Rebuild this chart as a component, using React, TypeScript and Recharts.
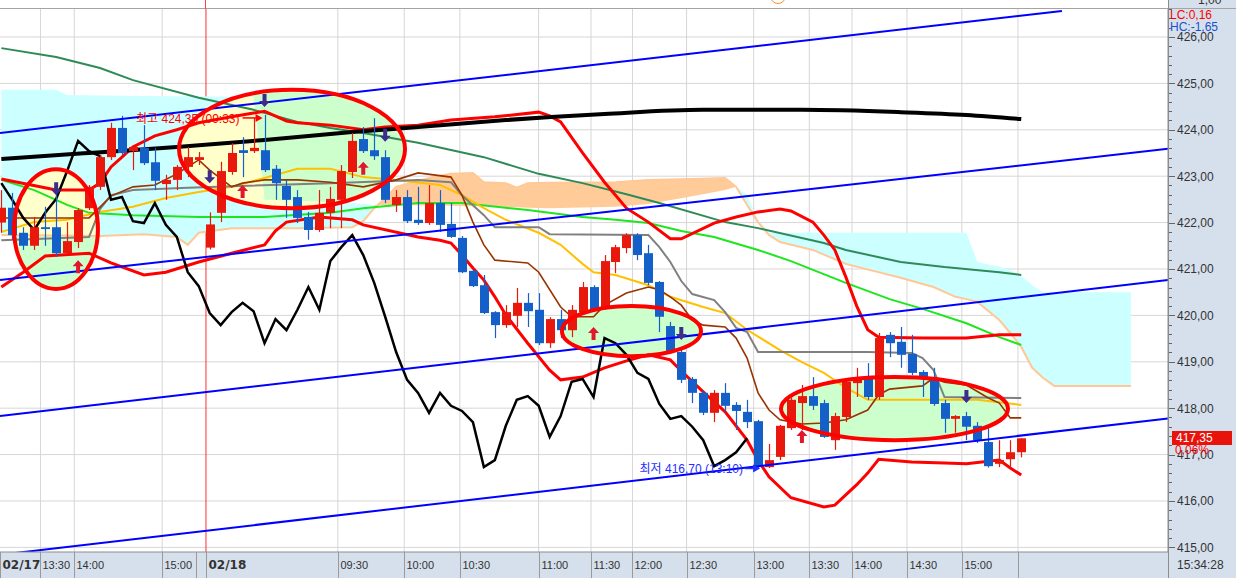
import React from 'react'
import {
  ComposedChart, Bar, Line, Area, Scatter, XAxis, YAxis,
  ReferenceLine, ReferenceArea, ReferenceDot,
} from 'recharts'

const FONT = "'Liberation Sans', 'Noto Sans CJK KR', sans-serif"
const PANEL = '#d6e0ec'
const UP = '#e8180c'
const DOWN = '#1560c8'

// bar index k = 0..93 (02/17 afternoon + 02/18)
const opens = [
  422.00, 422.32, 421.78, 421.50, 421.90, 421.90, 421.34, 421.58, 422.31, 422.77,
  423.41, 424.04, 423.54, 423.61, 423.30, 422.83, 422.92, 423.20, 423.35, 421.46,
  422.21, 423.09, 423.56, 423.54, 423.56, 423.16, 422.79, 422.55, 422.12, 421.84,
  422.21, 422.49, 423.09, 423.80, 423.56, 423.41, 422.38, 422.55, 422.06, 421.99,
  422.42, 421.97, 421.67, 420.96, 420.65, 420.07, 419.79, 419.99, 420.27, 420.12,
  419.40, 419.92, 419.68, 420.07, 420.61, 420.18, 421.15, 421.45, 421.73, 421.34,
  420.72, 419.77, 419.21, 418.63, 418.33, 417.90, 418.33, 418.07, 417.92, 417.72,
  416.73, 416.95, 417.57, 418.11, 418.26, 418.11, 417.31, 417.81, 418.54, 418.65,
  418.24, 419.58, 419.43, 419.17, 418.78, 418.63, 418.11, 417.77, 417.83, 417.62,
  417.27, 416.80, 416.90, 417.05,
]
const highs = [
  422.70, 422.64, 421.90, 422.12, 422.34, 422.70, 422.01, 422.31, 422.81, 423.46,
  424.15, 424.30, 423.67, 424.10, 423.61, 423.03, 423.24, 423.63, 423.52, 422.22,
  423.31, 423.71, 423.84, 424.25, 424.32, 423.24, 422.92, 422.70, 422.23, 422.70,
  422.77, 423.24, 423.93, 424.06, 424.25, 423.56, 422.70, 422.70, 422.77, 422.81,
  422.70, 422.42, 421.71, 420.98, 420.87, 420.09, 420.22, 420.59, 420.48, 420.48,
  419.96, 420.12, 420.22, 420.72, 420.65, 421.30, 421.52, 421.77, 421.77, 421.52,
  420.74, 419.86, 419.25, 418.67, 418.39, 418.39, 418.54, 418.13, 418.18, 417.75,
  417.23, 417.64, 418.22, 418.50, 418.67, 418.18, 417.90, 418.61, 418.87, 418.97,
  419.62, 419.64, 419.75, 419.58, 418.82, 418.87, 418.18, 417.85, 417.92, 417.70,
  417.57, 417.31, 417.31, 417.35,
]
const lows = [
  421.78, 421.63, 421.41, 421.41, 421.50, 421.26, 421.30, 421.45, 422.27, 422.70,
  423.35, 423.46, 423.13, 423.24, 422.70, 422.49, 422.70, 422.98, 423.24, 421.42,
  422.01, 423.03, 422.98, 423.50, 423.09, 422.49, 422.10, 421.99, 421.63, 421.80,
  421.88, 421.88, 422.96, 423.50, 423.35, 422.42, 422.23, 421.99, 421.95, 421.95,
  421.80, 421.67, 420.91, 420.61, 420.03, 419.51, 419.73, 419.75, 419.75, 419.36,
  419.30, 419.51, 419.53, 420.05, 420.07, 420.12, 420.91, 421.34, 421.19, 420.65,
  419.64, 419.19, 418.54, 418.11, 417.85, 417.70, 417.90, 417.53, 417.57, 416.70,
  416.71, 416.88, 417.53, 417.53, 417.96, 417.36, 417.10, 417.70, 418.24, 418.18,
  418.18, 419.10, 418.87, 418.71, 418.24, 418.05, 417.47, 417.47, 417.31, 417.25,
  416.72, 416.73, 416.71, 416.94,
]
const closes = [
  422.32, 421.73, 421.50, 421.90, 421.86, 421.34, 421.60, 422.27, 422.77, 423.41,
  424.04, 423.50, 423.63, 423.28, 422.90, 422.92, 423.20, 423.41, 423.41, 421.96,
  423.11, 423.50, 423.50, 423.61, 423.13, 422.85, 422.49, 422.10, 421.84, 422.21,
  422.51, 423.11, 423.76, 423.54, 423.43, 422.49, 422.55, 422.03, 421.99, 422.42,
  421.95, 421.69, 420.93, 420.63, 420.05, 419.79, 420.07, 420.27, 420.09, 419.40,
  419.92, 419.68, 420.12, 420.61, 420.12, 421.17, 421.47, 421.73, 421.30, 420.70,
  419.97, 419.21, 418.61, 418.33, 417.90, 418.33, 418.05, 417.94, 417.70, 416.73,
  416.88, 417.62, 418.18, 418.26, 418.05, 417.38, 417.83, 418.57, 418.63, 418.24,
  419.51, 419.40, 419.15, 418.76, 418.63, 418.09, 417.77, 417.83, 417.60, 417.31,
  416.75, 416.88, 417.05, 417.35,
]

// indicator lines read at sample bars: [bar, price]
const blackMa: [number, number][] = [
  [0, 423.37], [8, 423.50], [16, 423.63], [24, 423.78], [32, 423.95], [38, 424.06], [46, 424.21],
  [55, 424.34], [64, 424.43], [73, 424.43], [82, 424.38], [88, 424.32], [93, 424.23],
]
const tealMa: [number, number][] = [
  [0, 425.76], [5, 425.57], [9, 425.33], [12, 425.07], [18, 424.69], [23, 424.43], [27, 424.17],
  [30, 424.04], [33, 423.93], [38, 423.72], [44, 423.41], [49, 423.05], [53, 422.85], [57, 422.61],
  [60, 422.42], [66, 422.01], [69, 421.88], [75, 421.56], [77, 421.41], [82, 421.15], [86, 421.04],
  [91, 420.93], [93, 420.87],
]
const greenMa: [number, number][] = [
  [0, 422.92], [3, 422.70], [6, 422.38], [8, 422.21], [12, 422.16], [18, 422.12], [24, 422.12],
  [30, 422.21], [33, 422.31], [38, 422.42], [42, 422.42], [48, 422.27], [53, 422.12], [56, 422.06],
  [59, 421.99], [62, 421.82], [65, 421.69], [69, 421.41], [72, 421.17], [77, 420.70], [81, 420.35],
  [84, 420.14], [88, 419.83], [91, 419.53], [93, 419.36],
]
const yellowMa: [number, number][] = [
  [0, 421.80], [3, 422.01], [6, 422.06], [9, 422.23], [12, 422.34], [15, 422.53], [18, 422.66],
  [21, 422.77], [24, 422.96], [27, 423.16], [30, 423.16], [33, 422.98], [36, 422.92], [40, 422.81],
  [42, 422.59], [44, 422.31], [46, 422.06], [49, 421.78], [51, 421.52], [53, 421.11], [54, 420.93],
  [56, 420.87], [59, 420.65], [61, 420.40], [64, 420.18], [66, 420.05], [68, 419.69], [71, 419.25],
  [73, 418.99], [75, 418.76], [77, 418.44], [79, 418.18], [83, 418.18], [89, 418.18], [93, 418.07],
]
const tenkan: [number, number][] = [
  [0, 422.10], [8, 422.10], [10, 422.57], [12, 422.77], [14, 422.81], [16, 423.05], [18, 423.35],
  [19, 423.13], [21, 422.77], [22, 422.85], [24, 422.92], [27, 422.92], [30, 422.87], [33, 422.77],
  [36, 422.92], [38, 423.07], [41, 422.98], [42, 422.59], [43, 422.01], [44, 421.52], [45, 421.19],
  [48, 421.13], [49, 420.93], [51, 420.18], [52, 419.97], [54, 419.97], [55, 420.22], [57, 420.48],
  [59, 420.61], [60, 420.55], [61, 420.40], [62, 420.22], [63, 419.90], [64, 419.79], [66, 419.75],
  [67, 419.51], [68, 419.08], [69, 418.33], [70, 417.96], [71, 417.75], [73, 417.66], [75, 417.68],
  [77, 417.75], [79, 417.96], [80, 418.29], [81, 418.41], [84, 418.48], [85, 418.65], [86, 418.56],
  [88, 418.50], [90, 418.22], [91, 418.11], [92, 417.79], [93, 417.79],
]
const kijun: [number, number][] = [
  [0, 421.62], [8, 421.69], [9, 422.29], [10, 422.59], [12, 422.70], [17, 422.75], [30, 422.85],
  [38, 422.92], [41, 422.87], [42, 422.59], [44, 422.16], [45, 421.90], [49, 421.90], [50, 421.75],
  [59, 421.73], [60, 421.47], [61, 421.15], [62, 420.74], [63, 420.46], [65, 420.33], [66, 420.07],
  [67, 419.73], [68, 419.64], [69, 419.21], [79, 419.21], [83, 419.19], [84, 419.08], [85, 418.82],
  [86, 418.24], [93, 418.22],
]
const bandUpper: [number, number][] = [
  [0, 422.94], [5, 422.70], [8, 422.70], [9, 422.85], [10, 423.20], [11, 423.41], [12, 423.63],
  [14, 423.87], [16, 424.00], [18, 424.15], [21, 424.28], [23, 424.36], [24, 424.40], [26, 424.19],
  [27, 424.15], [30, 424.10], [33, 424.00], [35, 424.06], [38, 424.10], [41, 424.21], [45, 424.28],
  [49, 424.38], [50, 424.30], [51, 424.17], [53, 423.50], [55, 422.87], [57, 422.31], [59, 422.01],
  [61, 421.65], [62, 421.65], [65, 421.99], [67, 422.12], [69, 422.23], [71, 422.29], [72, 422.25],
  [74, 422.01], [75, 421.73], [76, 421.41], [77, 420.83], [78, 420.20], [79, 419.69], [80, 419.53],
  [84, 419.51], [88, 419.51], [91, 419.58], [93, 419.58],
]
const bandLower: [number, number][] = [
  [0, 420.61], [2, 420.93], [4, 421.28], [8, 421.34], [10, 421.13], [13, 420.87], [15, 420.93],
  [18, 421.15], [21, 421.34], [24, 421.52], [25, 421.82], [26, 422.01], [29, 422.12], [32, 422.06],
  [33, 421.95], [38, 421.69], [40, 421.62], [41, 421.56], [42, 421.30], [43, 421.02], [44, 420.76],
  [45, 420.40], [46, 420.01], [48, 419.40], [50, 418.82], [51, 418.61], [53, 418.67], [55, 418.87],
  [57, 419.02], [59, 419.15], [61, 419.04], [62, 418.80], [64, 418.35], [66, 417.92], [68, 417.31],
  [69, 416.88], [70, 416.52], [72, 416.07], [75, 415.87], [76, 415.91], [78, 416.35], [79, 416.60],
  [80, 416.90], [83, 416.84], [86, 416.82], [88, 416.80], [91, 416.88], [92, 416.71], [93, 416.56],
]
// lagging span, from bar 0
const chikou = [
  422.85, 422.49, 422.10, 421.84, 422.21, 422.51, 423.11, 423.76, 423.54, 423.43,
  422.49, 422.55, 422.03, 421.99, 422.42, 421.95, 421.69, 420.93, 420.63, 420.05,
  419.79, 420.07, 420.27, 420.09, 419.40, 419.92, 419.68, 420.12, 420.61, 420.12,
  421.17, 421.47, 421.73, 421.30, 420.70, 419.97, 419.21, 418.61, 418.33, 417.90,
  418.33, 418.05, 417.94, 417.70, 416.73, 416.88, 417.62, 418.18, 418.26, 418.05,
  417.38, 417.83, 418.57, 418.63, 418.24, 419.51, 419.40, 419.15, 418.76, 418.63,
  418.09, 417.77, 417.83, 417.60, 417.31, 416.75, 416.88, 417.05, 417.35,
]
// cloud: [bar, span A, span B]
const cloudLeft: [number, number, number][] = [
  [0, 424.86, 421.73], [5, 424.86, 421.72], [6, 424.75, 421.72], [9, 424.74, 421.71],
  [13, 424.73, 421.75], [16, 424.72, 421.69], [17, 424.72, 421.52], [18, 424.72, 421.78],
  [21, 424.71, 421.88], [23, 424.71, 421.88], [24, 422.49, 421.88], [27, 422.47, 421.88],
  [32, 422.42, 421.90], [33, 422.40, 422.03], [34, 422.38, 422.31],
]
const cloudMid: [number, number, number][] = [
  [34, 422.38, 422.31], [35, 422.38, 422.53], [36, 422.38, 422.77], [39, 422.37, 422.96],
  [41, 422.36, 423.05], [43, 422.35, 423.07], [44, 422.35, 422.87], [46, 422.33, 422.85],
  [47, 422.33, 422.75], [48, 422.32, 422.85], [50, 422.31, 422.86], [56, 422.34, 422.87],
  [59, 422.40, 422.92], [63, 422.57, 422.94], [66, 422.70, 422.96], [67, 422.77, 422.77],
]
const cloudRight: [number, number, number][] = [
  [67, 422.77, 422.77], [68, 422.60, 422.38], [69, 422.05, 422.01], [70, 421.78, 421.73],
  [71, 421.78, 421.58], [74, 421.78, 421.41], [77, 421.78, 421.11], [82, 421.78, 420.81],
  [85, 421.78, 420.61], [87, 421.78, 420.40], [88, 421.78, 420.35], [89, 421.15, 420.29],
  [91, 421.05, 419.90], [92, 420.98, 419.62], [93, 420.85, 419.32], [94, 420.65, 418.87],
  [95, 420.50, 418.65], [96, 420.50, 418.48], [103, 420.50, 418.48],
]
const sellSignals: [number, number][] = [[5, 422.59], [19, 422.85], [24, 424.49], [35, 423.74], [62, 419.47], [88, 418.11]]
const buySignals: [number, number][] = [[7, 421.19], [22, 422.81], [33, 423.31], [54, 419.75], [73, 417.53]]

// channel lines [bar, price] -> [bar, price]
const channels = [
  [[-0.12, 423.93], [96.71, 426.56]],
  [[-0.12, 420.76], [106.38, 423.59]],
  [[-0.12, 417.83], [106.38, 420.76]],
  [[-0.12, 414.84], [106.38, 417.78]],
]
// circled zones
const zones = [
  { x1: 1.16, x2: 8.81, y1: 423.15, y2: 420.57 },
  { x1: 16.2, x2: 36.81, y1: 424.86, y2: 422.31 },
  { x1: 51.12, x2: 63.8, y1: 420.2, y2: 419.12 },
  { x1: 71.09, x2: 91.79, y1: 418.67, y2: 417.31 },
]

const X_MIN = -0.1213
const X_MAX = 106.38
const Y_MIN = 414.9
const Y_MAX = 426.603

const xTickPos = [-0.1213, 3.57, 6.65, 14.67, 17.75, 18.66, 30.68, 36.74, 41.81, 48.99, 53.77, 57.55, 62.48, 68.6, 73.67, 77.57, 82.58, 87.58, 92.7]
const xTickLabels = ['02/17', '13:30', '14:00', '15:00', '', '02/18', '09:30', '10:00', '10:30', '11:00', '11:30', '12:00', '12:30', '13:00', '13:30', '14:00', '14:30', '15:00', '']
const yTicks = [415, 416, 417, 418, 419, 420, 421, 422, 423, 424, 425, 426]
const yMinor = yTicks.flatMap((t) => [t, t + 0.2, t + 0.4, t + 0.6, t + 0.8]).filter((t) => t < Y_MAX)

const pts = (arr: [number, number][]) => arr.map(([i, v]) => ({ i, v }))

function Candle(props: any) {
  const { x, y, width, height, payload } = props
  const { o, h, l, c } = payload
  const top = Math.min(y, y + height)
  const hgt = Math.abs(height)
  const unit = hgt / (h - l || 1)
  const color = c >= o ? UP : DOWN
  const bTop = top + (h - Math.max(o, c)) * unit
  const bBot = top + (h - Math.min(o, c)) * unit
  const cx = Math.round(x + width / 2) + 0.5
  return (
    <g>
      <line x1={cx} x2={cx} y1={top} y2={top + hgt} stroke={color} strokeWidth={1.2} />
      <rect x={cx - 4.5} y={bTop} width={9} height={Math.max(1.5, bBot - bTop)} fill={color} />
    </g>
  )
}

function SellArrow({ cx, cy }: any) {
  return <path d={`M${cx},${cy} l-5.5,-6 l3.5,0 l0,-7 l4,0 l0,7 l3.5,0 z`} fill="#3c2c8c" />
}
function BuyArrow({ cx, cy }: any) {
  return <path d={`M${cx},${cy} l-5.5,6 l3.5,0 l0,7 l4,0 l0,-7 l3.5,0 z`} fill="#e0182c" />
}

const zoneFill = (n: number) => (p: any) => {
  const cx = p.x + p.width / 2
  const cy = p.y + p.height / 2
  return (
    <g>
      <defs>
        <clipPath id={`zone-clip-${n}`}>
          <ellipse cx={cx} cy={cy} rx={p.width / 2} ry={p.height / 2} />
        </clipPath>
      </defs>
      <ellipse cx={cx} cy={cy} rx={p.width / 2} ry={p.height / 2} fill="#ccffcc" />
    </g>
  )
}
const zoneBorder = (p: any) => (
  <ellipse cx={p.x + p.width / 2} cy={p.y + p.height / 2} rx={p.width / 2} ry={p.height / 2} fill="none" stroke="#ff0000" strokeWidth={4} />
)

function HighNote({ cx, cy }: any) {
  return (
    <g>
      <text x={cx - 25} y={cy + 8} textAnchor="end" fontSize={12} fill="#ff0000" fontFamily={FONT}>최고 424,35 (09:33)</text>
      <line x1={cx - 22} x2={cx - 8} y1={cy + 3} y2={cy + 3} stroke="#ff0000" strokeWidth={1.5} />
      <path d={`M${cx - 2},${cy + 3} l-7,-4 l0,8 z`} fill="#ff0000" />
    </g>
  )
}
function LowNote({ cx, cy }: any) {
  return (
    <g>
      <text x={cx - 15} y={cy + 4.5} textAnchor="end" fontSize={12} fill="#1f2fff" fontFamily={FONT}>최저 416,70 (13:10)</text>
      <line x1={cx - 13} x2={cx - 4} y1={cy} y2={cy} stroke="#1f2fff" strokeWidth={1.5} />
      <path d={`M${cx + 2},${cy} l-7,-4 l0,8 z`} fill="#1f2fff" />
    </g>
  )
}

function XTick({ x, y, payload }: any) {
  const idx = xTickPos.findIndex((p) => Math.abs(p - payload.value) < 1e-6)
  const label = xTickLabels[idx] ?? ''
  const bold = label.includes('/')
  const px = Math.round(x) + 0.5
  return (
    <g>
      <line x1={px} x2={px} y1={y} y2={y + 26} stroke="#9a9a9a" />
      <text x={px + 2} y={y + 17} fontSize={bold ? 12 : 11} fontWeight={bold ? 700 : 400}
        fontFamily={bold ? "'DejaVu Sans', sans-serif" : FONT} fill="#333">{label}</text>
    </g>
  )
}

function YTick({ x, y, payload }: any) {
  const v = payload.value
  const major = yTicks.some((t) => Math.abs(t - v) < 1e-6)
  const py = Math.round(y) + 0.5
  return (
    <g>
      <line x1={x + 1} x2={x + (major ? 7 : 4)} y1={py} y2={py} stroke="#666" />
      {major && (
        <text x={x + 9} y={y + 4.5} fontSize={12} fill="#333" fontFamily={FONT}>
          {v.toFixed(2).replace('.', ',')}
        </text>
      )}
    </g>
  )
}

export default function App() {
  const rows = opens.map((o, i) => ({ i, o, h: highs[i], l: lows[i], c: closes[i], hl: [lows[i], highs[i]] }))
  const cyanLeft = cloudLeft.map(([i, a, b]) => ({ i, r: [b, a] }))
  const orange = cloudMid.map(([i, a, b]) => ({ i, r: [a, b] }))
  const cyanRight = cloudRight.map(([i, a, b]) => ({ i, r: [b, a] }))
  const spanB = [...cloudLeft, ...cloudMid, ...cloudRight].map(([i, , b]) => ({ i, v: b }))
  const lagging = chikou.map((v, i) => ({ i, v }))
  const gridX = xTickPos.filter((_, n) => n > 0 && xTickLabels[n] !== '02/18' && n !== 4)

  return (
    <div style={{ position: 'absolute', left: 0, top: 0, width: 1236, height: 578, background: '#fff', overflow: 'hidden', fontFamily: FONT }}>
      <style>{`.zone-cloud-0 { clip-path: url(#zone-clip-0); } .zone-cloud-1 { clip-path: url(#zone-clip-1); }`}</style>
      <div style={{ position: 'absolute', left: 1168, top: 0, width: 68, height: 578, background: PANEL }} />
      <div style={{ position: 'absolute', left: 0, top: 552, width: 1168, height: 26, background: PANEL }} />
      <div style={{ position: 'absolute', left: 0, top: 8, width: 1236, height: 1, background: '#a4a4a4' }} />
      <div style={{ position: 'absolute', left: 1168, top: 0, width: 1, height: 578, background: '#8c8c8c' }} />
      <div style={{ position: 'absolute', left: 205, top: 0, width: 1, height: 9, background: '#ff4040' }} />
      <div style={{ position: 'absolute', left: 770, top: -12, width: 14, height: 14, border: '1.5px solid #ff8c2a', borderRadius: '50%' }} />

      <div style={{ position: 'absolute', left: 0, top: 0 }}>
        <ComposedChart width={1236} height={578} data={rows} margin={{ top: 9, right: 0, bottom: 0, left: 0 }}>
          <XAxis dataKey="i" type="number" domain={[X_MIN, X_MAX]} allowDataOverflow ticks={xTickPos} interval={0}
            tick={<XTick />} tickLine={false} tickSize={0} tickMargin={0} height={26} axisLine={{ stroke: '#8c8c8c' }} />
          <YAxis orientation="right" type="number" domain={[Y_MIN, Y_MAX]} allowDataOverflow ticks={yMinor} interval={0}
            tick={<YTick />} tickLine={false} tickSize={0} tickMargin={0} width={68} axisLine={{ stroke: '#8c8c8c' }} />

          {yTicks.map((t) => (
            <ReferenceLine key={`gy${t}`} y={t} stroke="#d6d6d6" zIndex={1} />
          ))}
          {gridX.map((p) => (
            <ReferenceLine key={`gx${p}`} x={p} stroke="#d6d6d6" zIndex={1} />
          ))}
          <ReferenceLine x={18.66} stroke="#ff3030" zIndex={1} />

          {zones.map((z, n) => (
            <ReferenceArea key={`zf${n}`} x1={z.x1} x2={z.x2} y1={z.y1} y2={z.y2} shape={zoneFill(n)} zIndex={2} />
          ))}

          <Area data={cyanLeft} dataKey="r" type="linear" stroke="none" fill="#ccffff" fillOpacity={1} dot={false} activeDot={false} isAnimationActive={false} zIndex={3} />
          <Area data={orange} dataKey="r" type="linear" stroke="none" fill="#ffcc99" fillOpacity={1} dot={false} activeDot={false} isAnimationActive={false} zIndex={3} />
          <Area data={cyanRight} dataKey="r" type="linear" stroke="none" fill="#ccffff" fillOpacity={1} dot={false} activeDot={false} isAnimationActive={false} zIndex={3} />
          <Area className="zone-cloud-0" data={cyanLeft} dataKey="r" type="linear" stroke="none" fill="#ffffcc" fillOpacity={1} dot={false} activeDot={false} isAnimationActive={false} zIndex={4} />
          <Area className="zone-cloud-1" data={cyanLeft} dataKey="r" type="linear" stroke="none" fill="#ffffcc" fillOpacity={1} dot={false} activeDot={false} isAnimationActive={false} zIndex={4} />

          <Line data={spanB} dataKey="v" type="linear" stroke="#ffc896" strokeWidth={2} dot={false} activeDot={false} isAnimationActive={false} zIndex={5} />
          <Line data={pts(tealMa)} dataKey="v" type="linear" stroke="#2e8b57" strokeWidth={2} dot={false} activeDot={false} isAnimationActive={false} zIndex={5} />
          <Line data={pts(greenMa)} dataKey="v" type="linear" stroke="#1ee61e" strokeWidth={2} dot={false} activeDot={false} isAnimationActive={false} zIndex={5} />
          <Line data={pts(yellowMa)} dataKey="v" type="linear" stroke="#ffc000" strokeWidth={2} dot={false} activeDot={false} isAnimationActive={false} zIndex={5} />
          <Line data={pts(kijun)} dataKey="v" type="linear" stroke="#808080" strokeWidth={2} dot={false} activeDot={false} isAnimationActive={false} zIndex={5} />
          <Line data={pts(tenkan)} dataKey="v" type="linear" stroke="#993300" strokeWidth={1.6} dot={false} activeDot={false} isAnimationActive={false} zIndex={5} />
          <Line data={pts(bandUpper)} dataKey="v" type="linear" stroke="#ff0000" strokeWidth={3} dot={false} activeDot={false} isAnimationActive={false} zIndex={5} />
          <Line data={pts(bandLower)} dataKey="v" type="linear" stroke="#ff0000" strokeWidth={3} dot={false} activeDot={false} isAnimationActive={false} zIndex={5} />
          <Line data={pts(blackMa)} dataKey="v" type="monotone" stroke="#000000" strokeWidth={4} dot={false} activeDot={false} isAnimationActive={false} zIndex={5} />
          <Line data={lagging} dataKey="v" type="linear" stroke="#000000" strokeWidth={2.5} dot={false} activeDot={false} isAnimationActive={false} zIndex={5} />

          <Bar dataKey="hl" barSize={9} shape={Candle} isAnimationActive={false} zIndex={6} />

          {channels.map(([a, b], n) => (
            <ReferenceLine key={`ch${n}`} segment={[{ x: a[0], y: a[1] }, { x: b[0], y: b[1] }]}
              stroke="#0000ff" strokeWidth={2} ifOverflow="hidden" zIndex={7} />
          ))}

          <Scatter data={pts(sellSignals)} dataKey="v" shape={SellArrow} isAnimationActive={false} zIndex={8} />
          <Scatter data={pts(buySignals)} dataKey="v" shape={BuyArrow} isAnimationActive={false} zIndex={8} />

          {zones.map((z, n) => (
            <ReferenceArea key={`zb${n}`} x1={z.x1} x2={z.x2} y1={z.y1} y2={z.y2} shape={zoneBorder} zIndex={9} />
          ))}

          <ReferenceDot x={24} y={424.32} r={0} shape={HighNote} ifOverflow="visible" zIndex={10} />
          <ReferenceDot x={69} y={416.7} r={0} shape={LowNote} ifOverflow="visible" zIndex={10} />
        </ComposedChart>
      </div>

      <div style={{ position: 'absolute', left: 1198, top: -7, fontSize: 12, color: '#333' }}>1,00</div>
      <div style={{ position: 'absolute', left: 1170, top: 9, fontSize: 12, color: '#ff0000', lineHeight: '12px' }}>LC:0,16</div>
      <div style={{ position: 'absolute', left: 1170, top: 21, fontSize: 12, color: '#1a50d0', lineHeight: '12px' }}>HC:-1,65</div>
      <div style={{ position: 'absolute', left: 1172, top: 431, width: 60, height: 14, background: '#e8140c', color: '#fff', fontSize: 12, lineHeight: '14px', paddingLeft: 4, boxSizing: 'border-box' }}>417,35</div>
      <div style={{ position: 'absolute', left: 1175, top: 444, fontSize: 12, color: '#ff0000', lineHeight: '13px' }}>0,06%</div>
      <div style={{ position: 'absolute', left: 1177, top: 558, fontSize: 12, color: '#333', lineHeight: '14px' }}>15:34:28</div>
    </div>
  )
}
